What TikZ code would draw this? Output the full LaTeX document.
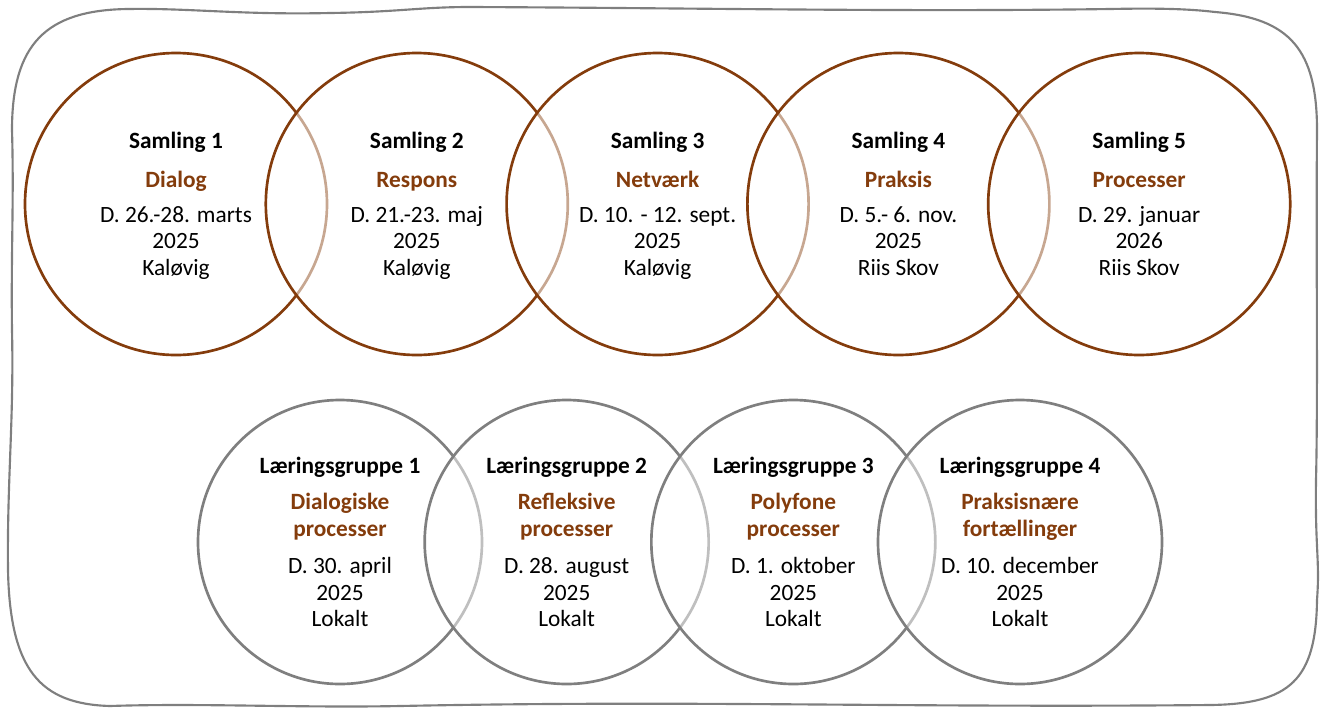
\documentclass[tikz,border=0pt]{standalone}
\usepackage{fontspec}
\setmainfont{Carlito}
\usepackage{tikz}
\usetikzlibrary{positioning}
\definecolor{brun}{HTML}{843C0C}
\definecolor{graa}{HTML}{7F7F7F}
\tikzset{
  samling/.style = {circle, draw=brun, line width=2pt, fill=white, fill opacity=0.55, text opacity=1, minimum size=226.5pt, align=center, text depth=-4pt, font=\fontsize{17.5}{20}\selectfont},
  gruppe/.style = {circle, draw=graa, line width=2pt, fill=white, fill opacity=0.5, text opacity=1, minimum size=213pt, align=center, font=\fontsize{17.5}{20}\selectfont},
  ramme/.style = {graa, line width=1.6pt},
}
\newcommand{\tema}[1]{\textcolor{brun}{\textbf{#1}}}

\begin{document}
\begin{tikzpicture}[x=0.75pt,y=-0.75pt,node distance=180.6pt]
      \useasboundingbox (0,0) rectangle (1322,708);
      % outer frame
      \draw[ramme] (12,130)
        .. controls (12,45) and (45,10) .. (128,9)
        .. controls (190,8) and (240,15) .. (330,13)
        .. controls (400,12) and (420,7) .. (470,7)
        .. controls (700,8) and (900,12) .. (1110,9)
        .. controls (1160,8) and (1190,9) .. (1215,12)
        .. controls (1290,18) and (1317,50) .. (1317,130)
        .. controls (1316,250) and (1318,400) .. (1316,480)
        .. controls (1315,550) and (1320,560) .. (1317,600)
        .. controls (1316,680) and (1290,704) .. (1210,705)
        .. controls (900,708) and (700,700) .. (400,706)
        .. controls (300,708) and (200,703) .. (110,706)
        .. controls (40,704) and (10,670) .. (8,570)
        .. controls (7,480) and (14,420) .. (12,330)
        .. controls (11,250) and (14,200) .. (12,130) -- cycle;

      % samlinger
      \node[samling] (s1) at (176,204) {\textbf{Samling 1}\\[9pt]\tema{Dialog}\\[6pt]D. 26.-28. marts\\2025\\Kaløvig};
      \node[samling, right of=s1] (s2) {\textbf{Samling 2}\\[9pt]\tema{Respons}\\[6pt]D. 21.-23. maj\\2025\\Kaløvig};
      \node[samling, right of=s2] (s3) {\textbf{Samling 3}\\[9pt]\tema{Netværk}\\[6pt]D. 10. - 12. sept.\\2025\\Kaløvig};
      \node[samling, right of=s3] (s4) {\textbf{Samling 4}\\[9pt]\tema{Praksis}\\[6pt]D. 5.- 6. nov.\\2025\\Riis Skov};
      \node[samling, right of=s4] (s5) {\textbf{Samling 5}\\[9pt]\tema{Processer}\\[6pt]D. 29. januar\\2026\\Riis Skov};

      % læringsgrupper
      \node[gruppe] (g1) at (340,542) {\textbf{Læringsgruppe 1}\\[7pt]\tema{Dialogiske}\\\tema{processer}\\[8pt]D. 30. april\\2025\\Lokalt};
      \node[gruppe, right of=g1, node distance=170pt] (g2) {\textbf{Læringsgruppe 2}\\[7pt]\tema{Refleksive}\\\tema{processer}\\[8pt]D. 28. august\\2025\\Lokalt};
      \node[gruppe, right of=g2, node distance=170pt] (g3) {\textbf{Læringsgruppe 3}\\[7pt]\tema{Polyfone}\\\tema{processer}\\[8pt]D. 1. oktober\\2025\\Lokalt};
      \node[gruppe, right of=g3, node distance=170pt] (g4) {\textbf{Læringsgruppe 4}\\[7pt]\tema{Praksisnære}\\\tema{fortællinger}\\[8pt]D. 10. december\\2025\\Lokalt};
\end{tikzpicture}
\end{document}
